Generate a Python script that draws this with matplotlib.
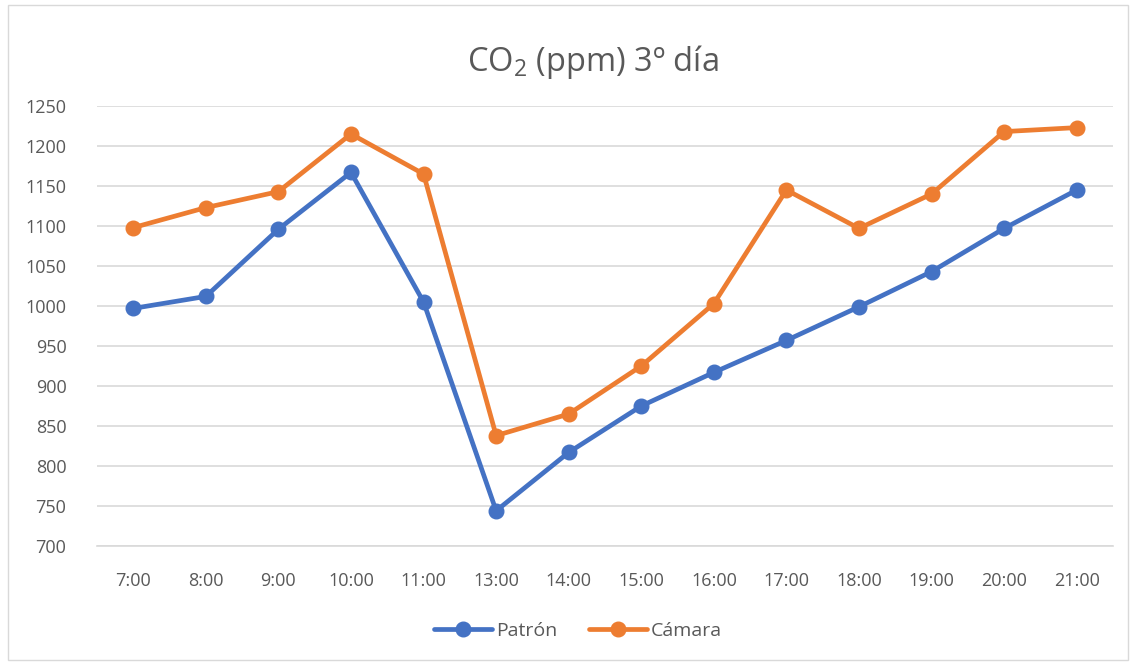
import matplotlib
matplotlib.use("Agg")
import matplotlib.pyplot as plt
from matplotlib.patches import Rectangle

plt.rcParams['font.family'] = ['Open Sans', 'DejaVu Sans']
plt.rcParams['mathtext.default'] = 'regular'

horas = ["7:00", "8:00", "9:00", "10:00", "11:00", "13:00", "14:00",
         "15:00", "16:00", "17:00", "18:00", "19:00", "20:00", "21:00"]
patron = [997, 1012, 1096, 1167, 1005, 744, 817, 875, 917, 957, 999, 1043, 1097, 1145]
camara = [1098, 1123, 1143, 1215, 1165, 838, 865, 925, 1003, 1145, 1097, 1140, 1218, 1223]

azul = "#4472C4"
naranja = "#ED7D31"
gris_txt = "#595959"

fig = plt.figure(figsize=(11.31, 6.63), dpi=100)
ax = fig.add_axes([97/1131, 1 - 546/663, (1113 - 97)/1131, (546 - 106)/663])

x = range(len(horas))
ax.plot(x, patron, color=azul, lw=3.4, marker='o', ms=10.5, label="Patrón",
        solid_capstyle='round', zorder=3)
ax.plot(x, camara, color=naranja, lw=3.4, marker='o', ms=10.5, label="Cámara",
        solid_capstyle='round', zorder=3)

ax.set_xlim(-0.5, len(horas) - 0.5)
ax.set_ylim(700, 1250)
ax.set_yticks(range(700, 1251, 50))
ax.set_xticks(list(x))
ax.set_xticklabels(horas)
ax.grid(axis='y', color="#D9D9D9", lw=1.2)
ax.set_axisbelow(True)
for s in ['top', 'right', 'left']:
    ax.spines[s].set_visible(False)
ax.spines['bottom'].set_color("#D9D9D9")
ax.spines['bottom'].set_linewidth(1.2)
ax.tick_params(length=0, labelsize=13, colors=gris_txt)
ax.tick_params(axis='x', pad=19)
ax.tick_params(axis='y', pad=22)

fig.text(593/1131, 1 - 62/663, "CO$_2$ (ppm) 3º día", ha='center', va='center',
         fontsize=23.5, color=gris_txt)

ax.legend(loc='center', bbox_to_anchor=(578/1131, 1 - 631/663),
          bbox_transform=fig.transFigure, ncol=2, frameon=False,
          fontsize=14, labelcolor=gris_txt, handlelength=3.0,
          columnspacing=1.6, handletextpad=0.2)

fig.patches.append(Rectangle((8/1131, 3/663), 1120/1131, 655/663,
                             transform=fig.transFigure, fill=False,
                             edgecolor="#D9D9D9", lw=1))

fig.savefig("out.png", dpi=100)
